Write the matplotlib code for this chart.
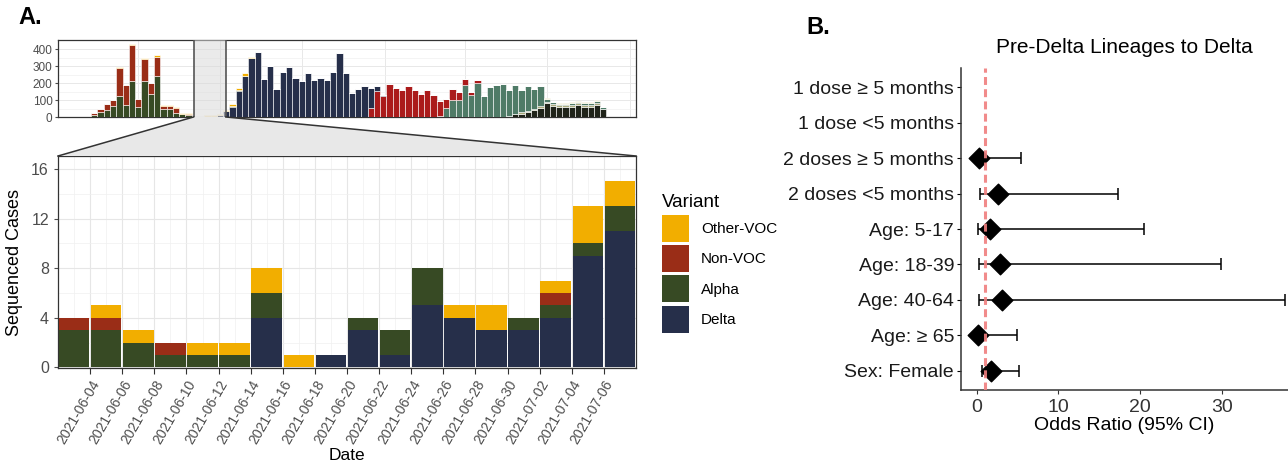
import numpy as np
import matplotlib
matplotlib.use("Agg")
import matplotlib.pyplot as plt
import matplotlib.dates as mdates
from matplotlib.patches import Patch, Polygon
from matplotlib.lines import Line2D
import datetime as dt

plt.rcParams['font.family'] = ['Liberation Sans', 'DejaVu Sans']

# ---- zoomed window: 2-day bins, June 2 - July 8 2021
bin_start = dt.date(2021, 6, 2)
n_bins = 18
delta_main = [0, 0, 0, 0, 0, 0, 4, 0, 1, 3, 1, 5, 4, 3, 3, 4, 9, 11]
alpha_main = [3, 3, 2, 1, 1, 1, 2, 0, 0, 1, 2, 3, 0, 0, 1, 1, 1, 2]
nonvoc_main = [1, 1, 0, 1, 0, 0, 0, 0, 0, 0, 0, 0, 0, 0, 0, 1, 0, 0]
other_main = [0, 1, 1, 0, 1, 1, 2, 1, 0, 0, 0, 0, 1, 2, 0, 1, 3, 2]

# ---- full period: weekly counts
week0 = dt.date(2021, 2, 8)
n_weeks = 82

def pad(start, vals):
    out = np.zeros(n_weeks)
    out[start:start + len(vals)] = vals
    return out

alpha_wk = pad(0, [12, 28, 43, 63, 122, 73, 211, 57, 211, 134, 243, 47, 45, 25, 15, 14,
                   4, 4, 3, 3, 2, 4, 5, 4, 5])
nonvoc_wk = pad(0, [14, 21, 32, 36, 168, 116, 215, 47, 131, 66, 112, 20, 22, 30, 4, 5, 1, 1])
other_wk = pad(0, [0, 0, 0, 0, 6, 2, 8, 2, 7, 3, 10, 2, 2, 2, 5, 5,
                   1, 2, 3, 1, 2, 6, 10, 12, 15, 5, 2])
delta_wk = pad(18, [4, 5, 12, 33, 60, 155, 240, 350, 383, 225, 304, 168, 268, 294, 231,
                    215, 260, 221, 231, 221, 266, 379, 260, 142, 168, 181, 116, 33, 5])
ba1_wk = pad(44, [55, 152, 127, 195, 171, 162, 185, 158, 136, 158, 132, 88, 53, 65, 49,
                  34, 16, 20])
ba2_wk = pad(55, [5, 53, 103, 99, 191, 130, 201, 122, 177, 187, 195, 150, 172, 135, 145,
                  120, 120, 17, 12, 9, 9, 10, 11, 10, 10, 13, 7])
ba4_wk = pad(68, [7, 8, 8, 10, 10, 10, 10, 10, 10, 12, 10, 10, 12, 5])
ba5_wk = pad(66, [8, 15, 20, 28, 40, 55, 80, 65, 60, 60, 62, 68, 62, 62, 72, 45])
misc_wk = pad(72, [5, 4, 4, 4, 5, 6, 5, 5, 6, 2])

# ---- odds ratios
or_labels = ["1 dose \u2265 5 months", "1 dose <5 months", "2 doses \u2265 5 months",
             "2 doses <5 months", "Age: 5-17", "Age: 18-39", "Age: 40-64",
             "Age: \u2265 65", "Sex: Female"]
or_est = [np.nan, np.nan, 0.28, 2.57, 1.63, 2.85, 3.14, 0.2, 1.75]
or_lo = [np.nan, np.nan, 0.05, 0.4, 0.2, 0.28, 0.28, 0.03, 0.61]
or_hi = [np.nan, np.nan, 5.38, 17.3, 20.5, 29.9, 37.7, 4.97, 5.18]

col_other = '#f2ae00'
col_nonvoc = '#9a2d17'
col_alpha = '#374a24'
col_delta = '#262f4a'
col_ba1 = '#ab1b1b'
col_ba2 = '#4f7b67'
col_ba4 = '#a9aa7c'
col_ba5 = '#1f2319'
col_misc = '#dcd59c'

W, H = 1288, 471
fig = plt.figure(figsize=(W / 100, H / 100), dpi=100)
ax_top = fig.add_axes([58 / W, 1 - 117 / H, 578 / W, 77 / H])
ax = fig.add_axes([58 / W, 1 - 368 / H, 578 / W, 212 / H])
axf = fig.add_axes([961 / W, 1 - 390 / H, 327 / W, 322 / H])

# ---------------- overview panel
wk_dates = [mdates.date2num(week0 + dt.timedelta(days=7 * k)) for k in range(n_weeks)]
bottom = np.zeros(n_weeks)
for vals, c in [(ba5_wk, col_ba5), (ba4_wk, col_ba4), (ba2_wk, col_ba2), (ba1_wk, col_ba1),
                (delta_wk, col_delta), (alpha_wk, col_alpha), (nonvoc_wk, col_nonvoc),
                (other_wk, col_other), (misc_wk, col_misc)]:
    ax_top.bar(wk_dates, vals, bottom=bottom, width=7, align='edge', color=c,
               edgecolor='white', linewidth=0.4, zorder=3)
    bottom += vals

zoom_lo = mdates.date2num(bin_start)
zoom_hi = mdates.date2num(bin_start + dt.timedelta(days=2 * n_bins))
ax_top.set_xlim(mdates.date2num(dt.date(2021, 1, 2)), mdates.date2num(dt.date(2022, 10, 8)))
ax_top.set_ylim(0, 455)
ax_top.set_yticks([0, 100, 200, 300, 400])
ax_top.set_yticks([50, 150, 250, 350], minor=True)
ax_top.xaxis.set_major_locator(mdates.MonthLocator(bymonth=[1, 4, 7, 10]))
ax_top.grid(True, which='major', color='#e8e8e8', lw=0.7, zorder=0)
ax_top.grid(True, which='minor', axis='y', color='#f0f0f0', lw=0.5, zorder=0)
ax_top.tick_params(axis='x', which='both', length=0, labelbottom=False)
ax_top.tick_params(axis='y', which='major', length=2, labelsize=8.5, colors='#4d4d4d',
                   pad=2)
ax_top.tick_params(axis='y', which='minor', length=0)
for sp in ax_top.spines.values():
    sp.set_color('#333333')
    sp.set_linewidth(0.9)
ax_top.axvspan(zoom_lo, zoom_hi, facecolor='#d9d9d9', alpha=0.55, zorder=4, lw=0)
ax_top.axvline(zoom_lo, color='#555555', lw=1.2, zorder=5)
ax_top.axvline(zoom_hi, color='#555555', lw=1.2, zorder=5)

# ---------------- zoomed panel
centers = [mdates.date2num(bin_start + dt.timedelta(days=2 * i + 1)) for i in range(n_bins)]
bottom = np.zeros(n_bins)
for vals, c in [(delta_main, col_delta), (alpha_main, col_alpha),
                (nonvoc_main, col_nonvoc), (other_main, col_other)]:
    ax.bar(centers, vals, bottom=bottom, width=1.9, color=c, linewidth=0, zorder=3)
    bottom += np.array(vals)

tick_dates = [bin_start + dt.timedelta(days=2 * (i + 1)) for i in range(n_bins - 1)]
ax.set_xlim(zoom_lo, zoom_hi)
ax.set_ylim(-0.05, 17.05)
ax.set_xticks([mdates.date2num(d) for d in tick_dates])
ax.set_xticklabels([d.strftime('%Y-%m-%d') for d in tick_dates], rotation=60, ha='right',
                   rotation_mode='anchor', fontsize=10, color='#4d4d4d')
ax.set_xticks(centers, minor=True)
ax.set_yticks([0, 4, 8, 12, 16])
ax.set_yticks([2, 6, 10, 14], minor=True)
ax.tick_params(axis='y', which='major', labelsize=11.5, colors='#4d4d4d', length=3)
ax.tick_params(axis='x', which='major', length=4, color='#333333', pad=3)
ax.tick_params(which='minor', length=0)
ax.grid(True, which='major', color='#e6e6e6', lw=0.8, zorder=0)
ax.grid(True, which='minor', color='#f0f0f0', lw=0.5, zorder=0)
for sp in ax.spines.values():
    sp.set_color('#333333')
    sp.set_linewidth(0.9)
ax.set_ylabel('Sequenced Cases', fontsize=13, labelpad=6)
ax.set_xlabel('Date', fontsize=12.5, labelpad=1)

# connector between the highlighted window and the zoomed panel
to_fig = fig.transFigure.inverted()
p_lo = to_fig.transform(ax_top.transData.transform((zoom_lo, 0)))
p_hi = to_fig.transform(ax_top.transData.transform((zoom_hi, 0)))
q_lo = to_fig.transform(ax.transAxes.transform((0, 1)))
q_hi = to_fig.transform(ax.transAxes.transform((1, 1)))
fig.patches.append(Polygon([p_lo, p_hi, q_hi, q_lo], closed=True, transform=fig.transFigure,
                           facecolor='#e8e8e8', edgecolor='none', zorder=0))
for a, b in [(p_lo, q_lo), (p_hi, q_hi)]:
    fig.lines.append(Line2D([a[0], b[0]], [a[1], b[1]], transform=fig.transFigure,
                            color='#333333', lw=1.1))

handles = [Patch(facecolor=c, edgecolor='none') for c in
           [col_other, col_nonvoc, col_alpha, col_delta]]
leg = fig.legend(handles, ['Other-VOC', 'Non-VOC', 'Alpha', 'Delta'], title='Variant',
                 loc='upper left', bbox_to_anchor=(653 / W, 1 - 185 / H), frameon=False,
                 fontsize=11, title_fontsize=13.5, handlelength=1.75, handleheight=2.35,
                 labelspacing=0.22, handletextpad=0.8, alignment='left',
                 borderaxespad=0.2)
leg._legend_handle_box.sep = 6

# ---------------- odds ratio panel
ypos = np.arange(len(or_labels), 0, -1)
est = np.array(or_est)
lo = np.array(or_lo)
hi = np.array(or_hi)
ok = ~np.isnan(est)
axf.errorbar(est[ok], ypos[ok], xerr=[est[ok] - lo[ok], hi[ok] - est[ok]], fmt='none',
             ecolor='black', elinewidth=1.1, capsize=4, capthick=1.1, zorder=3)
axf.scatter(est[ok], ypos[ok], marker='D', s=110, color='black', zorder=4)
ref = axf.axvline(1, color='#f07f7f', lw=2.2, alpha=0.9, zorder=5)
ref.set_dashes((2.6, 1.4))
axf.set_xlim(-1.9, 38.1)
axf.set_ylim(0.45, len(or_labels) + 0.55)
axf.set_yticks(ypos)
axf.set_yticklabels(or_labels)
axf.set_xticks([0, 10, 20, 30])
axf.tick_params(axis='x', labelsize=14, colors='#333333', length=3)
axf.tick_params(axis='y', labelsize=14, length=3, pad=2)
for lab in axf.get_yticklabels():
    lab.set_color('#1a1a1a')
axf.spines['top'].set_visible(False)
axf.spines['right'].set_visible(False)
axf.spines['left'].set_color('#333333')
axf.spines['bottom'].set_color('#333333')
axf.spines['left'].set_linewidth(1.1)
axf.spines['bottom'].set_linewidth(1.1)
axf.set_xlabel('Odds Ratio (95% CI)', fontsize=14, labelpad=1)
axf.set_title('Pre-Delta Lineages to Delta', fontsize=15, pad=11)

fig.text(18 / W, 1 - 6 / H, 'A.', fontsize=17, fontweight='bold', va='top', ha='left')
fig.text(806 / W, 1 - 16 / H, 'B.', fontsize=17, fontweight='bold', va='top', ha='left')

fig.savefig('out.png', dpi=100)
